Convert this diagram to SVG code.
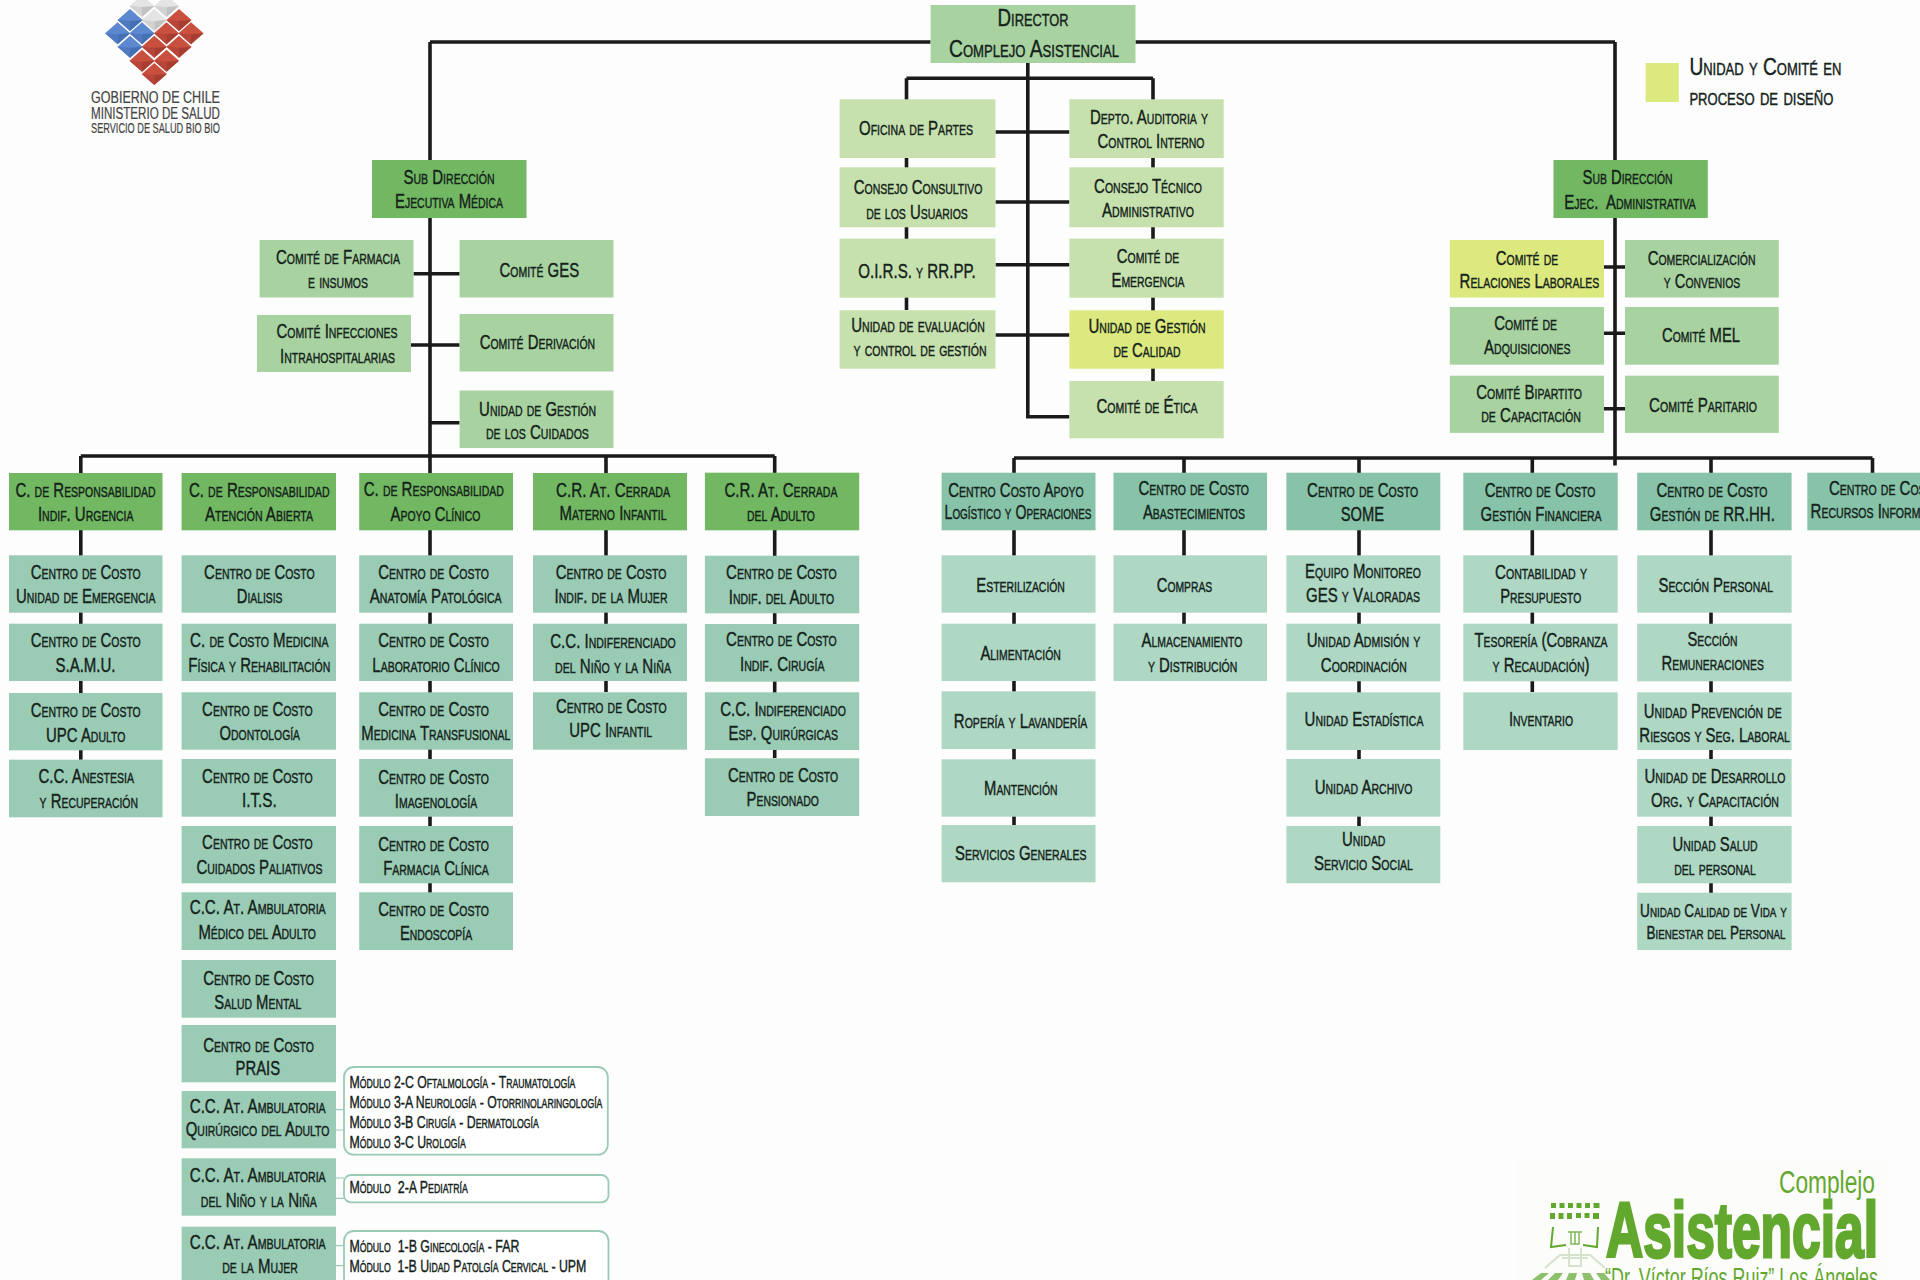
<svg xmlns="http://www.w3.org/2000/svg" width="1920" height="1280" viewBox="0 0 1920 1280">
<style>
text{font-family:"Liberation Sans Narrow","Liberation Sans",sans-serif;font-variant:small-caps;font-size:20px;fill:#14221a;text-anchor:middle;white-space:pre;stroke:#14221a;stroke-width:.4}
.l{text-anchor:start}
.s{font-size:17px}
.h{font-size:23.5px}
.m{font-size:18px}
.plain{font-variant:normal;stroke:none}
.go{fill:#444;stroke:#444;stroke-width:.2}
.ca{fill:#62a82e;stroke:none;font-variant:normal}
.g1{fill:#72b862}.g2{fill:#a8d3a1}.g3{fill:#c6e1ae}.y{fill:#dce97f}.t1{fill:#87c3a8}.t2{fill:#9acbb5}.t3{fill:#aed7c4}
.c{fill:none;stroke:#1a1a1a;stroke-width:3.6}
.tie{fill:none;stroke:#9acbb5;stroke-width:1.2}
.mb{fill:#fff;stroke:#9acbb5;stroke-width:1.8}
.ic{fill:#62a82e}
.pale{fill:none;stroke:#d5e2cc;stroke-width:2}
.br{fill:none;stroke:#62a82e;stroke-width:2}
</style>
<defs>
<g id="cr"><polygon points="0,-11 12.5,0 0,11 -12.5,0" fill="#c9503f"/><polygon points="12.5,0 0,11 0,1" fill="#a73d30"/><polygon points="-12.5,0 0,11 0,1" fill="#b8453a"/></g>
<g id="cb"><polygon points="0,-11 12.5,0 0,11 -12.5,0" fill="#5b88cf"/><polygon points="12.5,0 0,11 0,1" fill="#4470b4"/><polygon points="-12.5,0 0,11 0,1" fill="#5079c0"/></g>
<g id="cg"><polygon points="0,-11 12.5,0 0,11 -12.5,0" fill="#e4e4e4"/><polygon points="12.5,0 0,11 0,1" fill="#c2c2c2"/><polygon points="-12.5,0 0,11 0,1" fill="#d2d2d2"/></g>
</defs>
<rect width="1920" height="1280" fill="#fdfdfd"/>

<g id="logo-gobierno">
<use href="#cg" x="142" y="6"/><use href="#cg" x="166.5" y="6"/><use href="#cg" x="154.3" y="20"/>
<use href="#cb" x="130" y="20"/><use href="#cb" x="117.6" y="33.3"/><use href="#cb" x="142" y="33.3"/><use href="#cb" x="130" y="46.7"/>
<use href="#cr" x="179" y="20"/><use href="#cr" x="166.5" y="33.3"/><use href="#cr" x="191" y="33.3"/><use href="#cr" x="154.3" y="46.7"/><use href="#cr" x="179" y="46.7"/><use href="#cr" x="142" y="60.7"/><use href="#cr" x="166.5" y="60.7"/><use href="#cr" x="154.3" y="74"/>
<text class="plain go l" style="font-size:16.5px" x="91" y="103.3" textLength="129" lengthAdjust="spacingAndGlyphs">GOBIERNO DE CHILE</text>
<text class="plain go l" style="font-size:16px" x="91" y="118.7" textLength="129" lengthAdjust="spacingAndGlyphs">MINISTERIO DE SALUD</text>
<text class="plain go l" style="font-size:14.5px" x="91" y="133" textLength="129" lengthAdjust="spacingAndGlyphs">SERVICIO DE SALUD BIO BIO</text>
</g>

<g id="connectors">
<path class="c" d="M430 42H930.6M1135.5 42H1615M430 42V456M1615 42V465.6"/>
<path class="c" d="M1027.8 63V416.7H1069.4M906.5 78.3H1153M906.5 78.3V310M1153 78.3V381"/>
<path class="c" d="M995.5 132H1069.4M995.5 202H1069.4M995.5 264.7H1069.4M995.5 335H1069.4"/>
<path class="c" d="M413.5 273.7H459.6M411 345H459.6M430 422.7H459.6"/>
<path class="c" d="M1604 267H1625M1604 333.3H1625M1604 408.7H1625"/>
<path class="c" d="M80.8 456H774.7M80.8 456V759.7M430 456V893M606 456V692M774.7 456V758"/>
<path class="c" d="M1014 458H1872.5M1014 458V825M1184 458V624M1359 458V826M1532.3 458V692M1711 458V893M1872.5 458V473"/>
<path class="tie" d="M336 1109.7H344M336 1130H344M336 1178H344M336 1198.3H344M336 1245.7H344M336 1265.7H344"/>
</g>

<g id="n-director"><rect class="g2" x="930.6" y="5" width="204.9" height="58"/><text class="h" x="1033" y="26" textLength="71" lengthAdjust="spacingAndGlyphs">Director</text><text class="h" x="1034" y="56.7" textLength="170" lengthAdjust="spacingAndGlyphs">Complejo Asistencial</text></g>

<g id="legend"><rect class="y" x="1645.7" y="63" width="33.1" height="39"/><text class="h l" x="1689.4" y="75" textLength="152" lengthAdjust="spacingAndGlyphs">Unidad y Comité en</text><text class="h l" x="1689.4" y="105" textLength="144" lengthAdjust="spacingAndGlyphs">proceso de diseño</text></g>

<g id="n-oficina"><rect class="g3" x="839.6" y="99.3" width="155.9" height="58.7"/><text x="916" y="134.7" textLength="114" lengthAdjust="spacingAndGlyphs">Oficina de Partes</text></g>
<g id="n-consultivo"><rect class="g3" x="839.6" y="167.3" width="155.9" height="60"/><text x="918" y="194" textLength="128.6" lengthAdjust="spacingAndGlyphs">Consejo Consultivo</text><text x="917" y="218.7" textLength="101.6" lengthAdjust="spacingAndGlyphs">de los Usuarios</text></g>
<g id="n-oirs"><rect class="g3" x="839.6" y="238.7" width="155.9" height="59"/><text x="917" y="277.7" textLength="117.6" lengthAdjust="spacingAndGlyphs">O.I.R.S. y RR.PP.</text></g>
<g id="n-evaluacion"><rect class="g3" x="839.6" y="310.3" width="155.9" height="58.4"/><text x="918" y="331.7" textLength="133.5" lengthAdjust="spacingAndGlyphs">Unidad de evaluación</text><text x="920" y="356.3" textLength="133" lengthAdjust="spacingAndGlyphs">y control de gestión</text></g>
<g id="n-auditoria"><rect class="g3" x="1069.4" y="99.3" width="154.3" height="58.7"/><text x="1149" y="124.3" textLength="118" lengthAdjust="spacingAndGlyphs">Depto. Auditoria y</text><text x="1151" y="148.3" textLength="107" lengthAdjust="spacingAndGlyphs">Control Interno</text></g>
<g id="n-tecnico"><rect class="g3" x="1069.4" y="167.3" width="154.3" height="60"/><text x="1148" y="192.7" textLength="107.8" lengthAdjust="spacingAndGlyphs">Consejo Técnico</text><text x="1148" y="217.3" textLength="92" lengthAdjust="spacingAndGlyphs">Administrativo</text></g>
<g id="n-emergencia"><rect class="g3" x="1069.4" y="238.7" width="154.3" height="59"/><text x="1148" y="263.3" textLength="62.4" lengthAdjust="spacingAndGlyphs">Comité de</text><text x="1148" y="287" textLength="73" lengthAdjust="spacingAndGlyphs">Emergencia</text></g>
<g id="n-calidad"><rect class="y" x="1069.4" y="310.3" width="154.3" height="58.4"/><text x="1147" y="332.7" textLength="117" lengthAdjust="spacingAndGlyphs">Unidad de Gestión</text><text x="1147" y="357.3" textLength="67" lengthAdjust="spacingAndGlyphs">de Calidad</text></g>
<g id="n-etica"><rect class="g3" x="1069.4" y="381" width="154.3" height="57.3"/><text x="1147" y="413.3" textLength="101" lengthAdjust="spacingAndGlyphs">Comité de Ética</text></g>

<g id="n-sd-medica"><rect class="g1" x="372" y="160" width="154.5" height="58"/><text x="449" y="184" textLength="91" lengthAdjust="spacingAndGlyphs">Sub Dirección</text><text x="449" y="208" textLength="108" lengthAdjust="spacingAndGlyphs">Ejecutiva Médica</text></g>
<g id="n-farmacia"><rect class="g2" x="259.6" y="240" width="153.9" height="57.5"/><text x="338" y="264" textLength="124" lengthAdjust="spacingAndGlyphs">Comité de Farmacia</text><text x="338" y="288.3" textLength="60" lengthAdjust="spacingAndGlyphs">e insumos</text></g>
<g id="n-ges"><rect class="g2" x="459.6" y="240" width="153.9" height="57.5"/><text x="539.3" y="277.3" textLength="79.6" lengthAdjust="spacingAndGlyphs">Comité GES</text></g>
<g id="n-infecciones"><rect class="g2" x="257" y="315" width="154" height="57"/><text x="337" y="337.7" textLength="121" lengthAdjust="spacingAndGlyphs">Comité Infecciones</text><text x="337.6" y="362.7" textLength="115" lengthAdjust="spacingAndGlyphs">Intrahospitalarias</text></g>
<g id="n-derivacion"><rect class="g2" x="459.6" y="314" width="153.9" height="57.5"/><text x="537.4" y="349" textLength="115.5" lengthAdjust="spacingAndGlyphs">Comité Derivación</text></g>
<g id="n-cuidados"><rect class="g2" x="459.6" y="390.5" width="153.9" height="57.5"/><text x="537.6" y="415.7" textLength="117" lengthAdjust="spacingAndGlyphs">Unidad de Gestión</text><text x="537.4" y="439" textLength="103" lengthAdjust="spacingAndGlyphs">de los Cuidados</text></g>

<g id="n-sd-admin"><rect class="g1" x="1553.5" y="160" width="154.3" height="58"/><text x="1627.5" y="184" textLength="90" lengthAdjust="spacingAndGlyphs">Sub Dirección</text><text x="1630" y="208.7" textLength="131.4" lengthAdjust="spacingAndGlyphs">Ejec.  Administrativa</text></g>
<g id="n-relaciones"><rect class="y" x="1449.8" y="240" width="154.2" height="57.5"/><text x="1527" y="264.5" textLength="62.4" lengthAdjust="spacingAndGlyphs">Comité de</text><text x="1529.4" y="288" textLength="139.6" lengthAdjust="spacingAndGlyphs">Relaciones Laborales</text></g>
<g id="n-comercializacion"><rect class="g2" x="1625" y="240" width="153.8" height="57.5"/><text x="1701.6" y="264.5" textLength="107.8" lengthAdjust="spacingAndGlyphs">Comercialización</text><text x="1702" y="288" textLength="76.3" lengthAdjust="spacingAndGlyphs">y Convenios</text></g>
<g id="n-adquisiciones"><rect class="g2" x="1449.8" y="307" width="154.2" height="57.7"/><text x="1525.6" y="330.2" textLength="62.9" lengthAdjust="spacingAndGlyphs">Comité de</text><text x="1527.3" y="354.3" textLength="86.5" lengthAdjust="spacingAndGlyphs">Adquisiciones</text></g>
<g id="n-mel"><rect class="g2" x="1625" y="307" width="153.8" height="57.7"/><text x="1701" y="342" textLength="78" lengthAdjust="spacingAndGlyphs">Comité MEL</text></g>
<g id="n-bipartito"><rect class="g2" x="1449.8" y="375.7" width="154.2" height="57.2"/><text x="1529" y="398.8" textLength="105.7" lengthAdjust="spacingAndGlyphs">Comité Bipartito</text><text x="1531" y="422.2" textLength="99.6" lengthAdjust="spacingAndGlyphs">de Capacitación</text></g>
<g id="n-paritario"><rect class="g2" x="1625" y="375.7" width="153.8" height="57.2"/><text x="1703" y="411.5" textLength="107.8" lengthAdjust="spacingAndGlyphs">Comité Paritario</text></g>

<!-- column 1 -->
<g id="n-urgencia"><rect class="g1" x="9" y="473" width="153.5" height="57.3"/><text x="85.5" y="496.7" textLength="140" lengthAdjust="spacingAndGlyphs">C. de Responsabilidad</text><text x="85.7" y="520.7" textLength="95.5" lengthAdjust="spacingAndGlyphs">Indif. Urgencia</text></g>
<g id="n-emerg"><rect class="t2" x="9" y="555.3" width="153.5" height="57.4"/><text x="85.7" y="579" textLength="110" lengthAdjust="spacingAndGlyphs">Centro de Costo</text><text x="85.7" y="603.3" textLength="139.6" lengthAdjust="spacingAndGlyphs">Unidad de Emergencia</text></g>
<g id="n-samu"><rect class="t2" x="9" y="623.7" width="153.5" height="57.3"/><text x="85.7" y="647.3" textLength="110" lengthAdjust="spacingAndGlyphs">Centro de Costo</text><text x="85.5" y="671.7" textLength="60" lengthAdjust="spacingAndGlyphs">S.A.M.U.</text></g>
<g id="n-upc"><rect class="t2" x="9" y="693" width="153.5" height="57.3"/><text x="85.7" y="717.3" textLength="110" lengthAdjust="spacingAndGlyphs">Centro de Costo</text><text x="85.7" y="742" textLength="79.2" lengthAdjust="spacingAndGlyphs">UPC Adulto</text></g>
<g id="n-anestesia"><rect class="t2" x="9" y="759.7" width="153.5" height="57.6"/><text x="86.2" y="783.3" textLength="95.5" lengthAdjust="spacingAndGlyphs">C.C. Anestesia</text><text x="88.8" y="807.7" textLength="98.4" lengthAdjust="spacingAndGlyphs">y Recuperación</text></g>

<!-- column 2 -->
<g id="n-abierta"><rect class="g1" x="181.6" y="473" width="154.4" height="57.3"/><text x="259.3" y="496.7" textLength="140.8" lengthAdjust="spacingAndGlyphs">C. de Responsabilidad</text><text x="259" y="520.7" textLength="108" lengthAdjust="spacingAndGlyphs">Atención Abierta</text></g>
<g id="n-dialisis"><rect class="t2" x="181.6" y="555.3" width="154.4" height="57.4"/><text x="259.4" y="579" textLength="110.6" lengthAdjust="spacingAndGlyphs">Centro de Costo</text><text x="259.6" y="603.3" textLength="45.7" lengthAdjust="spacingAndGlyphs">Dialisis</text></g>
<g id="n-fisica"><rect class="t2" x="181.6" y="623.7" width="154.4" height="57.3"/><text x="259.3" y="647.3" textLength="138.4" lengthAdjust="spacingAndGlyphs">C. de Costo Medicina</text><text x="259.3" y="671.7" textLength="142" lengthAdjust="spacingAndGlyphs">Física y Rehabilitación</text></g>
<g id="n-odonto"><rect class="t2" x="181.6" y="692.3" width="154.4" height="57.4"/><text x="257.4" y="715.7" textLength="110.6" lengthAdjust="spacingAndGlyphs">Centro de Costo</text><text x="259.8" y="740" textLength="80.4" lengthAdjust="spacingAndGlyphs">Odontología</text></g>
<g id="n-its"><rect class="t2" x="181.6" y="759" width="154.4" height="57.7"/><text x="257.4" y="782.7" textLength="110.6" lengthAdjust="spacingAndGlyphs">Centro de Costo</text><text x="259.4" y="806.7" textLength="34.7" lengthAdjust="spacingAndGlyphs">I.T.S.</text></g>
<g id="n-paliativos"><rect class="t2" x="181.6" y="826" width="154.4" height="57.3"/><text x="257.4" y="849.3" textLength="110.6" lengthAdjust="spacingAndGlyphs">Centro de Costo</text><text x="259.4" y="874" textLength="126" lengthAdjust="spacingAndGlyphs">Cuidados Paliativos</text></g>
<g id="n-medico"><rect class="t2" x="181.6" y="892.3" width="154.4" height="57.7"/><text x="257.7" y="914.3" textLength="136" lengthAdjust="spacingAndGlyphs">C.C. At. Ambulatoria</text><text x="257.2" y="939" textLength="117.6" lengthAdjust="spacingAndGlyphs">Médico del Adulto</text></g>
<g id="n-mental"><rect class="t2" x="181.6" y="960" width="154.4" height="57.7"/><text x="258.6" y="985" textLength="110.6" lengthAdjust="spacingAndGlyphs">Centro de Costo</text><text x="257.8" y="1009" textLength="87" lengthAdjust="spacingAndGlyphs">Salud Mental</text></g>
<g id="n-prais"><rect class="t2" x="181.6" y="1025" width="154.4" height="57.3"/><text x="258.6" y="1051.7" textLength="110.6" lengthAdjust="spacingAndGlyphs">Centro de Costo</text><text x="257.8" y="1075" textLength="44.5" lengthAdjust="spacingAndGlyphs">PRAIS</text></g>
<g id="n-quirurgico"><rect class="t2" x="181.6" y="1091" width="154.4" height="57.3"/><text x="257.7" y="1112.7" textLength="136" lengthAdjust="spacingAndGlyphs">C.C. At. Ambulatoria</text><text x="257.6" y="1136" textLength="143.7" lengthAdjust="spacingAndGlyphs">Quirúrgico del Adulto</text></g>
<g id="n-nino"><rect class="t2" x="181.6" y="1158.3" width="154.4" height="57.4"/><text x="257.7" y="1182.3" textLength="136" lengthAdjust="spacingAndGlyphs">C.C. At. Ambulatoria</text><text x="258.8" y="1207.3" textLength="116" lengthAdjust="spacingAndGlyphs">del Niño y la Niña</text></g>
<g id="n-mujer"><rect class="t2" x="181.6" y="1226.7" width="154.4" height="57.3"/><text x="257.7" y="1249.3" textLength="136" lengthAdjust="spacingAndGlyphs">C.C. At. Ambulatoria</text><text x="260" y="1273.3" textLength="75.5" lengthAdjust="spacingAndGlyphs">de la Mujer</text></g>

<g id="mod-quirurgico"><rect class="mb" x="344" y="1067" width="263.8" height="87.7" rx="10"/><text class="s l" x="349.4" y="1088.3" textLength="226" lengthAdjust="spacingAndGlyphs">Módulo 2-C Oftalmología - Traumatología</text><text class="s l" x="349.4" y="1108" textLength="253" lengthAdjust="spacingAndGlyphs">Módulo 3-A Neurología - Otorrinolaringología</text><text class="s l" x="349.4" y="1127.7" textLength="189.4" lengthAdjust="spacingAndGlyphs">Módulo 3-B Cirugía - Dermatología</text><text class="s l" x="349.4" y="1147.7" textLength="116.3" lengthAdjust="spacingAndGlyphs">Módulo 3-C Urología</text></g>
<g id="mod-nino"><rect class="mb" x="344" y="1175" width="264.5" height="27.3" rx="7"/><text class="s l" x="349.4" y="1193" textLength="118.4" lengthAdjust="spacingAndGlyphs">Módulo  2-A Pediatría</text></g>
<g id="mod-mujer"><rect class="mb" x="344" y="1231" width="264.5" height="60" rx="10"/><text class="s l" x="349.4" y="1251.7" textLength="170" lengthAdjust="spacingAndGlyphs">Módulo  1-B Ginecología - FAR</text><text class="s l" x="349.4" y="1271.7" textLength="237" lengthAdjust="spacingAndGlyphs">Módulo  1-B Uidad Patolgía Cervical - UPM</text></g>

<!-- column 3 -->
<g id="n-apoyo"><rect class="g1" x="359.2" y="473" width="153.8" height="57.3"/><text x="433.8" y="496" textLength="140" lengthAdjust="spacingAndGlyphs">C. de Responsabilidad</text><text x="435.4" y="520.7" textLength="89.8" lengthAdjust="spacingAndGlyphs">Apoyo Clínico</text></g>
<g id="n-anatomia"><rect class="t2" x="359.2" y="555.3" width="153.8" height="57.4"/><text x="433.5" y="579" textLength="110.6" lengthAdjust="spacingAndGlyphs">Centro de Costo</text><text x="435.7" y="603.3" textLength="131.8" lengthAdjust="spacingAndGlyphs">Anatomía Patológica</text></g>
<g id="n-laboratorio"><rect class="t2" x="359.2" y="623.7" width="153.8" height="57.3"/><text x="433.5" y="647.3" textLength="110.6" lengthAdjust="spacingAndGlyphs">Centro de Costo</text><text x="436" y="671.7" textLength="127.3" lengthAdjust="spacingAndGlyphs">Laboratorio Clínico</text></g>
<g id="n-transfusional"><rect class="t2" x="359.2" y="692.3" width="153.8" height="57.4"/><text x="433.5" y="715.7" textLength="110.6" lengthAdjust="spacingAndGlyphs">Centro de Costo</text><text x="435.8" y="740" textLength="149" lengthAdjust="spacingAndGlyphs">Medicina Transfusional</text></g>
<g id="n-imagen"><rect class="t2" x="359.2" y="759" width="153.8" height="57.7"/><text x="433.5" y="784" textLength="110.6" lengthAdjust="spacingAndGlyphs">Centro de Costo</text><text x="436" y="808.3" textLength="82.4" lengthAdjust="spacingAndGlyphs">Imagenología</text></g>
<g id="n-farmclin"><rect class="t2" x="359.2" y="826" width="153.8" height="57.3"/><text x="433.5" y="850.7" textLength="110.6" lengthAdjust="spacingAndGlyphs">Centro de Costo</text><text x="436" y="875" textLength="105.7" lengthAdjust="spacingAndGlyphs">Farmacia Clínica</text></g>
<g id="n-endoscopia"><rect class="t2" x="359.2" y="892.3" width="153.8" height="57.7"/><text x="433.5" y="916" textLength="110.6" lengthAdjust="spacingAndGlyphs">Centro de Costo</text><text x="436" y="940" textLength="72.2" lengthAdjust="spacingAndGlyphs">Endoscopía</text></g>

<!-- column 4 -->
<g id="n-materno"><rect class="g1" x="533" y="473" width="154" height="57.3"/><text x="613" y="496.7" textLength="114" lengthAdjust="spacingAndGlyphs">C.R. At. Cerrada</text><text x="613" y="520" textLength="107" lengthAdjust="spacingAndGlyphs">Materno Infantil</text></g>
<g id="n-indif-mujer"><rect class="t2" x="533" y="555.3" width="154" height="57.4"/><text x="611" y="578.7" textLength="110.6" lengthAdjust="spacingAndGlyphs">Centro de Costo</text><text x="611" y="603.3" textLength="113" lengthAdjust="spacingAndGlyphs">Indif. de la Mujer</text></g>
<g id="n-indif-nino"><rect class="t2" x="533" y="623.7" width="154" height="57.3"/><text x="613" y="648.3" textLength="125.5" lengthAdjust="spacingAndGlyphs">C.C. Indiferenciado</text><text x="613" y="672.7" textLength="116" lengthAdjust="spacingAndGlyphs">del Niño y la Niña</text></g>
<g id="n-upc-inf"><rect class="t2" x="533" y="692.3" width="154" height="57.4"/><text x="611.3" y="713.3" textLength="110.6" lengthAdjust="spacingAndGlyphs">Centro de Costo</text><text x="610.7" y="737.3" textLength="82.8" lengthAdjust="spacingAndGlyphs">UPC Infantil</text></g>

<!-- column 5 -->
<g id="n-adulto"><rect class="g1" x="704.9" y="472.7" width="154.3" height="57.6"/><text x="781" y="496.7" textLength="113" lengthAdjust="spacingAndGlyphs">C.R. At. Cerrada</text><text x="781" y="521" textLength="67.8" lengthAdjust="spacingAndGlyphs">del Adulto</text></g>
<g id="n-indif-adulto"><rect class="t2" x="704.9" y="555.7" width="154.3" height="57.6"/><text x="781.4" y="579.3" textLength="110.6" lengthAdjust="spacingAndGlyphs">Centro de Costo</text><text x="781.4" y="604" textLength="105.3" lengthAdjust="spacingAndGlyphs">Indif. del Adulto</text></g>
<g id="n-indif-cirugia"><rect class="t2" x="704.9" y="624" width="154.3" height="57.7"/><text x="781.4" y="646" textLength="110.6" lengthAdjust="spacingAndGlyphs">Centro de Costo</text><text x="782.2" y="670.7" textLength="84.5" lengthAdjust="spacingAndGlyphs">Indif. Cirugía</text></g>
<g id="n-esp-quir"><rect class="t2" x="704.9" y="692.3" width="154.3" height="57.7"/><text x="783" y="715.7" textLength="125.7" lengthAdjust="spacingAndGlyphs">C.C. Indiferenciado</text><text x="783.3" y="740" textLength="109.4" lengthAdjust="spacingAndGlyphs">Esp. Quirúrgicas</text></g>
<g id="n-pensionado"><rect class="t2" x="704.9" y="758.3" width="154.3" height="57.7"/><text x="783" y="781.7" textLength="110" lengthAdjust="spacingAndGlyphs">Centro de Costo</text><text x="782.7" y="805.7" textLength="72.2" lengthAdjust="spacingAndGlyphs">Pensionado</text></g>

<!-- column 6 -->
<g id="n-logistico"><rect class="t1" x="941.6" y="472.7" width="153.9" height="57.6"/><text x="1016" y="496.7" textLength="135.5" lengthAdjust="spacingAndGlyphs">Centro Costo Apoyo</text><text x="1018" y="519.3" textLength="147" lengthAdjust="spacingAndGlyphs">Logístico y Operaciones</text></g>
<g id="n-esteril"><rect class="t3" x="941.6" y="555.3" width="153.9" height="57.4"/><text x="1020.6" y="592.3" textLength="88.6" lengthAdjust="spacingAndGlyphs">Esterilización</text></g>
<g id="n-aliment"><rect class="t3" x="941.6" y="623.7" width="153.9" height="57.3"/><text x="1020.6" y="660" textLength="80.4" lengthAdjust="spacingAndGlyphs">Alimentación</text></g>
<g id="n-ropa"><rect class="t3" x="941.6" y="691.3" width="153.9" height="57.7"/><text x="1020.6" y="727.7" textLength="133.5" lengthAdjust="spacingAndGlyphs">Ropería y Lavandería</text></g>
<g id="n-manten"><rect class="t3" x="941.6" y="759.3" width="153.9" height="57.4"/><text x="1020.8" y="795" textLength="73.5" lengthAdjust="spacingAndGlyphs">Mantención</text></g>
<g id="n-servicios"><rect class="t3" x="941.6" y="825" width="153.9" height="57.3"/><text x="1020.7" y="860" textLength="131.4" lengthAdjust="spacingAndGlyphs">Servicios Generales</text></g>

<!-- column 7 -->
<g id="n-abast"><rect class="t1" x="1113.5" y="472.7" width="153.5" height="57.6"/><text x="1193.7" y="495" textLength="110.6" lengthAdjust="spacingAndGlyphs">Centro de Costo</text><text x="1193.9" y="519" textLength="102" lengthAdjust="spacingAndGlyphs">Abastecimientos</text></g>
<g id="n-compras"><rect class="t3" x="1113.5" y="555.3" width="153.5" height="57.4"/><text x="1184.5" y="592" textLength="55.5" lengthAdjust="spacingAndGlyphs">Compras</text></g>
<g id="n-almacen"><rect class="t3" x="1113.5" y="623.7" width="153.5" height="57.3"/><text x="1192" y="647.3" textLength="100.8" lengthAdjust="spacingAndGlyphs">Almacenamiento</text><text x="1192.6" y="671.7" textLength="89.4" lengthAdjust="spacingAndGlyphs">y Distribución</text></g>

<!-- column 8 SOME -->
<g id="n-some"><rect class="t1" x="1286.4" y="472.7" width="153.9" height="57.6"/><text x="1362.6" y="496.6" textLength="111" lengthAdjust="spacingAndGlyphs">Centro de Costo</text><text x="1362.4" y="520.7" textLength="43.3" lengthAdjust="spacingAndGlyphs">SOME</text></g>
<g id="n-equipo"><rect class="t3" x="1286.4" y="555.3" width="153.9" height="57.4"/><text x="1363" y="577.7" textLength="115.8" lengthAdjust="spacingAndGlyphs">Equipo Monitoreo</text><text x="1363" y="602" textLength="114" lengthAdjust="spacingAndGlyphs">GES y Valoradas</text></g>
<g id="n-admision"><rect class="t3" x="1286.4" y="623.7" width="153.9" height="57.6"/><text x="1363.5" y="647.3" textLength="113.6" lengthAdjust="spacingAndGlyphs">Unidad Admisión y</text><text x="1363.8" y="671.7" textLength="85.9" lengthAdjust="spacingAndGlyphs">Coordinación</text></g>
<g id="n-estadistica"><rect class="t3" x="1286.4" y="692.3" width="153.9" height="57.7"/><text x="1364" y="726" textLength="118.8" lengthAdjust="spacingAndGlyphs">Unidad Estadística</text></g>
<g id="n-archivo"><rect class="t3" x="1286.4" y="759" width="153.9" height="57.7"/><text x="1363.5" y="794" textLength="97.6" lengthAdjust="spacingAndGlyphs">Unidad Archivo</text></g>
<g id="n-social"><rect class="t3" x="1286.4" y="826" width="153.9" height="57.3"/><text x="1363.6" y="846" textLength="43.4" lengthAdjust="spacingAndGlyphs">Unidad</text><text x="1363.5" y="870" textLength="98.9" lengthAdjust="spacingAndGlyphs">Servicio Social</text></g>

<!-- column 9 Financiera -->
<g id="n-financiera"><rect class="t1" x="1463.3" y="472.7" width="154.4" height="57.6"/><text x="1540" y="496.6" textLength="110.6" lengthAdjust="spacingAndGlyphs">Centro de Costo</text><text x="1541" y="520.7" textLength="121" lengthAdjust="spacingAndGlyphs">Gestión Financiera</text></g>
<g id="n-contab"><rect class="t3" x="1463.3" y="555.3" width="154.4" height="57.4"/><text x="1541" y="579.3" textLength="92" lengthAdjust="spacingAndGlyphs">Contabilidad y</text><text x="1540.7" y="603.3" textLength="81" lengthAdjust="spacingAndGlyphs">Presupuesto</text></g>
<g id="n-tesoreria"><rect class="t3" x="1463.3" y="623.7" width="154.4" height="57.6"/><text x="1541" y="646.7" textLength="133" lengthAdjust="spacingAndGlyphs">Tesorería (Cobranza</text><text x="1541" y="671.7" textLength="97" lengthAdjust="spacingAndGlyphs">y Recaudación)</text></g>
<g id="n-inventario"><rect class="t3" x="1463.3" y="692.3" width="154.4" height="57.7"/><text x="1541" y="726" textLength="64.2" lengthAdjust="spacingAndGlyphs">Inventario</text></g>

<!-- column 10 RRHH -->
<g id="n-rrhh"><rect class="t1" x="1637.2" y="472.7" width="154.4" height="57.6"/><text x="1712" y="496.6" textLength="111" lengthAdjust="spacingAndGlyphs">Centro de Costo</text><text x="1712.3" y="520.7" textLength="125" lengthAdjust="spacingAndGlyphs">Gestión de RR.HH.</text></g>
<g id="n-personal"><rect class="t3" x="1637.2" y="555.3" width="154.4" height="57.4"/><text x="1715.7" y="592" textLength="114.5" lengthAdjust="spacingAndGlyphs">Sección Personal</text></g>
<g id="n-remun"><rect class="t3" x="1637.2" y="623.7" width="154.4" height="57.6"/><text x="1712.5" y="646" textLength="49.9" lengthAdjust="spacingAndGlyphs">Sección</text><text x="1712.7" y="670" textLength="102.3" lengthAdjust="spacingAndGlyphs">Remuneraciones</text></g>
<g id="n-prevencion"><rect class="t3" x="1637.2" y="692.3" width="154.4" height="57.7"/><text x="1712.7" y="718" textLength="137.9" lengthAdjust="spacingAndGlyphs">Unidad Prevención de</text><text x="1714.6" y="742" textLength="150.5" lengthAdjust="spacingAndGlyphs">Riesgos y Seg. Laboral</text></g>
<g id="n-desarrollo"><rect class="t3" x="1637.2" y="759" width="154.4" height="57.7"/><text x="1715" y="783.3" textLength="141" lengthAdjust="spacingAndGlyphs">Unidad de Desarrollo</text><text x="1715" y="806.7" textLength="128" lengthAdjust="spacingAndGlyphs">Org. y Capacitación</text></g>
<g id="n-salud"><rect class="t3" x="1637.2" y="826" width="154.4" height="57.3"/><text x="1715" y="850.7" textLength="85" lengthAdjust="spacingAndGlyphs">Unidad Salud</text><text x="1715" y="875" textLength="81.5" lengthAdjust="spacingAndGlyphs">del personal</text></g>
<g id="n-vida"><rect class="t3" x="1637.2" y="892.7" width="154.4" height="57.3"/><text class="m" x="1713.4" y="917.3" textLength="146.6" lengthAdjust="spacingAndGlyphs">Unidad Calidad de Vida y</text><text class="m" x="1716" y="939.3" textLength="138.8" lengthAdjust="spacingAndGlyphs">Bienestar del Personal</text></g>

<!-- column 11 -->
<g id="n-recursos"><rect class="t1" x="1807.3" y="472.7" width="154" height="57.6"/><text class="l" x="1829" y="494.5" textLength="111" lengthAdjust="spacingAndGlyphs">Centro de Costo</text><text class="l" x="1810.6" y="518.2" textLength="149" lengthAdjust="spacingAndGlyphs">Recursos Informáticos</text></g>

<g id="logo-complejo">
<rect x="1517" y="1160" width="371" height="120" fill="#fcfcfa"/>
<path class="ic" d="M1551 1203h5v5h-5zM1559.5 1203h5v5h-5zM1568 1203h5v5h-5zM1576.5 1203h5v5h-5zM1585 1203h5v5h-5zM1593.5 1203h6v5h-6zM1550 1213h5v6h-5zM1558.5 1213h5v6h-5zM1567 1213h5v6h-5zM1576 1213h5v5h-5zM1584.5 1213h5v5h-5zM1593 1213h6v6h-6z"/>
<path class="br" d="M1553 1227L1551 1247L1566 1245M1598 1227L1597 1247L1583 1245"/>
<path d="M1568 1232H1582M1571 1232V1244H1579V1232M1575 1232V1244" fill="none" stroke="#7fb85a" stroke-width="1.5"/>
<path class="pale" d="M1545 1268L1560 1255H1590L1605 1268M1569 1248V1266H1581V1248M1562 1258H1588"/>
<path d="M1532 1280L1541 1273H1549L1541 1280zM1548 1280L1555 1273H1563L1558 1280zM1566 1280L1569 1273H1577L1575 1280zM1584 1280L1582 1273H1590L1594 1280zM1601 1280L1596 1273H1604L1610 1280z" fill="#8cc06a"/>
<text class="ca l" style="font-size:31px" x="1779" y="1193.3" textLength="96" lengthAdjust="spacingAndGlyphs">Complejo</text>
<text class="ca l" style="font-size:78px;font-weight:bold;stroke:#62a82e;stroke-width:3" x="1606" y="1257" textLength="272" lengthAdjust="spacingAndGlyphs">Asistencial</text>
<text class="ca l" style="font-size:28px" x="1605" y="1287" textLength="273" lengthAdjust="spacingAndGlyphs">“Dr. Víctor Ríos Ruiz” Los Ángeles</text>
</g>
</svg>
